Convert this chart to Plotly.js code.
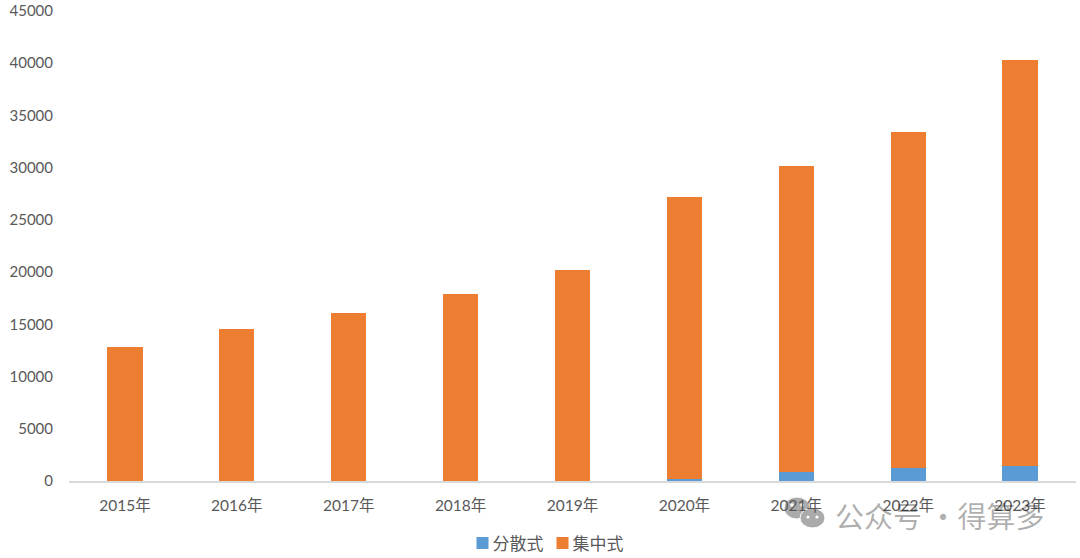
<!DOCTYPE html>
<html><head><meta charset="utf-8">
<script src="https://cdn.plot.ly/plotly-3.0.1.min.js"></script>
<style>html,body{margin:0;padding:0;background:#fff}#c{width:1080px;height:558px}</style>
</head><body><div id="c"></div>
<script>
const years = ['2015年','2016年','2017年','2018年','2019年','2020年','2021年','2022年','2023年'];
const distributed = [0,0,0,0,0,200,900,1250,1450];
const centralized = [12850,14550,16100,17950,20250,26950,29300,32200,38900];
const yTicks = [0,5000,10000,15000,20000,25000,30000,35000,40000,45000];
const W=1080,H=558,L=69,R=1076,T=11,B=481;
const font = "Lato, 'Noto Sans CJK SC', sans-serif";
const data = [
 {type:'bar',name:'分散式',x:years,y:distributed,width:0.315,marker:{color:'#5B9BD5'}},
 {type:'bar',name:'集中式',x:years,y:centralized,width:0.315,marker:{color:'#ED7D31'}}
];
const px=(x)=>(x-L)/(R-L), py=(y)=>(B-y)/(B-T);
const G='#ABABAB';
function oval(cx,cy,rx,ry,c){
  return {type:'circle',layer:'below',xref:'paper',yref:'paper',x0:px(cx-rx),x1:px(cx+rx),y0:py(cy+ry),y1:py(cy-ry),fillcolor:c,line:{color:c==G?'#fff':c,width:c==G?1:0}};
}
const layout = {
 width:W,height:H,paper_bgcolor:'#fff',plot_bgcolor:'#fff',barmode:'stack',showlegend:true,
 margin:{l:L,r:W-R,t:T,b:H-B,autoexpand:false},
 font:{family:font,size:15,color:'#595959'},
 xaxis:{type:'category',range:[-0.5,8.5],showgrid:false,showline:true,linecolor:'#D9D9D9',linewidth:2,ticks:'',ticklabelstandoff:9,tickfont:{family:font,size:15.5,color:'#595959'},automargin:false},
 yaxis:{range:[0,45000],tickvals:yTicks,ticktext:yTicks.map(String),showgrid:false,zeroline:false,showline:false,ticks:'',ticklabelstandoff:15,tickfont:{family:font,size:15,color:'#595959'},automargin:false},
 legend:{orientation:'h',x:0.5,xanchor:'center',y:-0.133,yanchor:'middle',font:{family:font,size:17,color:'#595959'},itemwidth:30,traceorder:'normal',bgcolor:'rgba(0,0,0,0)'},
 shapes:[oval(797,508,13,11,G),oval(812.5,518,12.5,10,G),oval(792,505,1.8,1.8,'#fff'),oval(802,505,1.8,1.8,'#fff'),oval(808,517,1.6,1.6,'#fff'),oval(817,517,1.6,1.6,'#fff')],
 annotations:[{xref:'paper',yref:'paper',x:px(833),y:py(515),xanchor:'left',yanchor:'middle',showarrow:false,
   text:'公众号 ·得算多',font:{family:"'Noto Sans CJK SC', sans-serif",size:29,color:'rgba(0,0,0,0.33)'}}],
 bargap:0.685
};
Plotly.newPlot('c',data,layout,{displayModeBar:false,staticPlot:true}).then(()=>{
  // tighten native legend spacing: swatch-to-text gap and entry pitch
  const traces=[...document.querySelectorAll('#c .legend .traces')];
  traces.forEach((t,i)=>{
    const m=/translate\(([-\d.]+),\s*([-\d.]+)\)/.exec(t.getAttribute('transform'));
    const tx=t.querySelector('.legendtext');
    tx.setAttribute('x',parseFloat(tx.getAttribute('x'))-10);
    if(i>0){const m0=/translate\(([-\d.]+)/.exec(traces[0].getAttribute('transform'));
      t.setAttribute('transform','translate('+(parseFloat(m0[1])+80*i)+','+m[2]+')');}
  });
  const lg=document.querySelector('#c .legend');
  const sw=document.querySelector('#c .legend .legendpoints path').getBoundingClientRect();
  const m=/translate\(([-\d.]+),\s*([-\d.]+)\)/.exec(lg.getAttribute('transform'));
  lg.setAttribute('transform','translate('+(parseFloat(m[1])+482.5-(sw.left+sw.right)/2)+','+m[2]+')');
});
</script></body></html>
